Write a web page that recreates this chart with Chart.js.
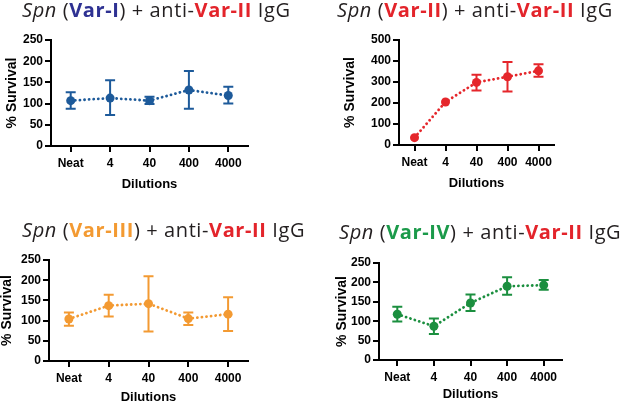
<!DOCTYPE html>
<html>
<head>
<meta charset="utf-8">
<script src="https://cdn.jsdelivr.net/npm/chart.js@4.4.1/dist/chart.umd.min.js"></script>
<style>
  body { margin: 0; width: 625px; height: 404px; overflow: hidden; background: #fff; position: relative; }
  canvas { position: absolute; }
  .ttl { position: absolute; z-index: 2; font-family: "Open Sans", sans-serif; font-size: 20px; letter-spacing: 0.6px; line-height: 24px; white-space: nowrap; color: #231f20; }
  .ttl b { font-weight: 700; }
</style>
</head>
<body>

<div class="ttl" style="left:22px;top:-2px"><i>Spn</i> (<b style="color:#2e3192">Var-I</b>) + anti-<b style="color:#e3242b">Var-II</b> IgG</div>
<div class="ttl" style="left:337px;top:-2px"><i>Spn</i> (<b style="color:#e3242b">Var-II</b>) + anti-<b style="color:#e3242b">Var-II</b> IgG</div>
<div class="ttl" style="left:22px;top:218px"><i>Spn</i> (<b style="color:#f39a32">Var-III</b>) + anti-<b style="color:#e3242b">Var-II</b> IgG</div>
<div class="ttl" style="left:339px;top:220px"><i>Spn</i> (<b style="color:#1b9a4a">Var-IV</b>) + anti-<b style="color:#e3242b">Var-II</b> IgG</div>

<canvas id="c1" width="312" height="200" style="left:0;top:0"></canvas>
<canvas id="c2" width="313" height="200" style="left:312px;top:0"></canvas>
<canvas id="c3" width="312" height="204" style="left:0;top:200px"></canvas>
<canvas id="c4" width="313" height="204" style="left:312px;top:200px"></canvas>

<script>
/* ---------- DATA ---------- */
const dilutions = ["Neat", "4", "40", "400", "4000"];

const varI_mean = [107, 113, 107, 132, 119];
const varI_low  = [88, 73, 99, 88, 100];
const varI_high = [127, 155, 116, 177, 140];

const varII_mean = [35, 205, 298, 325, 353];
const varII_low  = [35, 205, 260, 255, 325];
const varII_high = [35, 205, 335, 395, 385];

const varIII_mean = [104, 137, 142, 105, 116];
const varIII_low  = [87, 110, 73, 89, 74];
const varIII_high = [120, 164, 210, 120, 158];

const varIV_mean = [118, 87, 147, 190, 193];
const varIV_low  = [99, 67, 126, 168, 181];
const varIV_high = [137, 107, 169, 213, 206];

const AXIS_FONT = "'Liberation Sans', Arial, sans-serif";

/* ---------- ERROR BARS ---------- */
const errorBars = {
  id: "errorBars",
  afterDatasetsDraw(chart, args, opts) {
    const { ctx } = chart;
    const y = chart.scales.y;
    const meta = chart.getDatasetMeta(0);
    ctx.save();
    ctx.strokeStyle = opts.color;
    ctx.lineWidth = 2;
    opts.low.forEach((lo, i) => {
      const hi = opts.high[i];
      if (hi - lo < 1) return;
      const px = meta.data[i].x;
      const y1 = y.getPixelForValue(lo);
      const y2 = y.getPixelForValue(hi);
      ctx.beginPath();
      ctx.moveTo(px, y1); ctx.lineTo(px, y2);
      ctx.moveTo(px - 5, y1); ctx.lineTo(px + 5, y1);
      ctx.moveTo(px - 5, y2); ctx.lineTo(px + 5, y2);
      ctx.stroke();
    });
    ctx.restore();
  }
};

/* ---------- PANEL ---------- */
function makePanel(id, box, area, yTitleX, xTitleY, yMax, yStep, color, mean, low, high) {
  const padLeft = Math.max(0, yTitleX - box.x - 7);
  const padTop = area.top - box.y;
  const padRight = box.w - (area.right - box.x);
  const padBottom = box.h - (xTitleY - box.y) - 6.5;
  const yWidth = area.left - box.x - padLeft;
  const xHeight = box.h - padBottom - (area.bottom - box.y);

  const axisGrid = {
    display: true, drawOnChartArea: false, drawTicks: true,
    tickLength: 6, lineWidth: 2, color: "#000", offset: false
  };
  const axisBorder = { display: true, color: "#000", width: 2 };

  new Chart(document.getElementById(id), {
    type: "line",
    data: {
      labels: dilutions,
      datasets: [{
        data: mean,
        borderColor: color,
        backgroundColor: color,
        borderWidth: 2.8,
        borderDash: [0.1, 4.5],
        borderCapStyle: "round",
        tension: 0,
        pointRadius: 4.5,
        pointBorderWidth: 0,
        pointBackgroundColor: color,
        clip: false
      }]
    },
    options: {
      responsive: false,
      animation: false,
      layout: { padding: { left: padLeft, top: padTop, right: padRight, bottom: padBottom } },
      plugins: {
        legend: { display: false },
        tooltip: { enabled: false },
        errorBars: { color, low, high }
      },
      scales: {
        x: {
          offset: true,
          grid: axisGrid,
          border: axisBorder,
          ticks: {
            color: "#000", padding: 4, maxRotation: 0, autoSkip: false,
            font: { family: AXIS_FONT, size: 12, weight: "bold" }
          },
          title: {
            display: true, text: "Dilutions", color: "#000", padding: 0,
            font: { family: AXIS_FONT, size: 13, weight: "bold", lineHeight: 1 }
          },
          afterFit: s => { s.height = xHeight; }
        },
        y: {
          min: 0, max: yMax,
          grid: axisGrid,
          border: axisBorder,
          ticks: {
            stepSize: yStep, color: "#000", padding: 2,
            font: { family: AXIS_FONT, size: 12, weight: "bold" }
          },
          title: {
            display: true, text: "% Survival", color: "#000", padding: 0,
            font: { family: AXIS_FONT, size: 14, weight: "bold", lineHeight: 1 }
          },
          afterFit: s => { s.width = yWidth; }
        }
      }
    },
    plugins: [errorBars]
  });
}

makePanel("c1", { x: 0, y: 0, w: 312, h: 200 }, { left: 51, right: 248, top: 40, bottom: 146 },
  12, 184, 250, 50, "#1d5a9a", varI_mean, varI_low, varI_high);
makePanel("c2", { x: 312, y: 0, w: 313, h: 200 }, { left: 399, right: 554, top: 40, bottom: 145 },
  350, 183, 500, 100, "#e5262b", varII_mean, varII_low, varII_high);
makePanel("c3", { x: 0, y: 200, w: 312, h: 204 }, { left: 49, right: 248, top: 260, bottom: 361 },
  7, 397, 250, 50, "#f39a32", varIII_mean, varIII_low, varIII_high);
makePanel("c4", { x: 312, y: 200, w: 313, h: 204 }, { left: 379, right: 562, top: 263, bottom: 360 },
  342, 394, 250, 50, "#1b8f3f", varIV_mean, varIV_low, varIV_high);
</script>
</body>
</html>
